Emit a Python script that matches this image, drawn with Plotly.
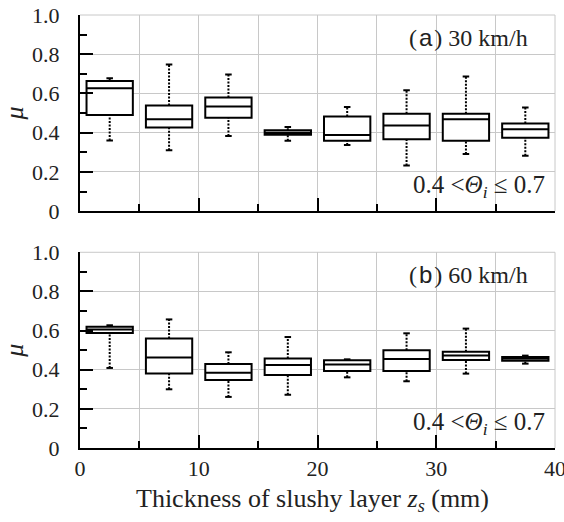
import plotly.graph_objects as go
from plotly.subplots import make_subplots

# Box positions (thickness of slushy layer, mm)
positions = [2.5, 7.5, 12.5, 17.5, 22.5, 27.5, 32.5, 37.5]

# (a) 30 km/h
a_low = [0.36, 0.31, 0.383, 0.359, 0.337, 0.233, 0.291, 0.283]
a_q1 = [0.49, 0.427, 0.476, 0.39, 0.359, 0.366, 0.359, 0.374]
a_med = [0.626, 0.469, 0.534, 0.40, 0.388, 0.437, 0.468, 0.417]
a_q3 = [0.663, 0.539, 0.58, 0.412, 0.482, 0.497, 0.497, 0.447]
a_high = [0.677, 0.748, 0.697, 0.429, 0.531, 0.617, 0.686, 0.529]

# (b) 60 km/h
b_low = [0.409, 0.30, 0.261, 0.272, 0.361, 0.341, 0.38, 0.431]
b_q1 = [0.588, 0.381, 0.348, 0.373, 0.394, 0.394, 0.45, 0.446]
b_med = [0.605, 0.463, 0.385, 0.424, 0.427, 0.455, 0.472, 0.457]
b_q3 = [0.619, 0.56, 0.429, 0.457, 0.448, 0.499, 0.492, 0.465]
b_high = [0.627, 0.657, 0.489, 0.567, 0.453, 0.586, 0.61, 0.472]

panel_letters = ["a", "b"]
panel_speeds = ["30 km/h", "60 km/h"]
range_label = "0.4 &lt;<i>Θ<sub>i</sub></i> ≤ 0.7"
x_title = "Thickness of slushy layer <i>z<sub>s</sub></i> (mm)"
x_ticks = [0, 10, 20, 30, 40]
y_ticks = [0, 0.2, 0.4, 0.6, 0.8, 1.0]
y_ticktext = ["0", "0.2", "0.4", "0.6", "0.8", "1.0"]

SERIF = "Liberation Serif"
TXT = "#222222"
GRID = "#c8c8c8"
BOX_W = 3.9
CAP_W = 0.55

fig = make_subplots(rows=2, cols=1, vertical_spacing=0.095)

datasets = [(a_low, a_q1, a_med, a_q3, a_high), (b_low, b_q1, b_med, b_q3, b_high)]
for r, (lo, q1, med, q3, hi) in enumerate(datasets, start=1):
    wx, wy = [], []
    for p, l, a, b, h in zip(positions, lo, q1, q3, hi):
        wx += [p, p, None, p, p, None]
        wy += [l, a, None, b, h, None]
    fig.add_trace(go.Scatter(x=wx, y=wy, mode="lines",
                             line=dict(color="black", width=2, dash="2px,1.5px"),
                             hoverinfo="skip", showlegend=False), row=r, col=1)
    cx, cy = [], []
    for p, l, h in zip(positions, lo, hi):
        cx += [p - CAP_W / 2, p + CAP_W / 2, None, p - CAP_W / 2, p + CAP_W / 2, None]
        cy += [l, l, None, h, h, None]
    fig.add_trace(go.Scatter(x=cx, y=cy, mode="lines",
                             line=dict(color="black", width=2),
                             hoverinfo="skip", showlegend=False), row=r, col=1)
    fig.add_trace(go.Box(x=positions, q1=q1, median=med, q3=q3,
                         lowerfence=q1, upperfence=q3,
                         width=BOX_W, whiskerwidth=0,
                         fillcolor="white", line=dict(color="black", width=2),
                         boxpoints=False, showlegend=False), row=r, col=1)

axis_common = dict(showline=True, linecolor="black", linewidth=2,
                   showgrid=True, gridcolor=GRID, gridwidth=1,
                   zeroline=False, ticks="inside", tickcolor="black",
                   tickwidth=2, mirror=False, automargin=False)

for r in (1, 2):
    fig.update_xaxes(range=[0, 40], tickvals=x_ticks, ticklen=13,
                     showticklabels=(r == 2), ticklabeloverflow="allow",
                     ticklabelstandoff=0,
                     minor=dict(dtick=5, tick0=0, ticks="inside", ticklen=7,
                                tickcolor="black", tickwidth=2, showgrid=True,
                                gridcolor=GRID, gridwidth=1),
                     tickfont=dict(family=SERIF, size=22, color=TXT),
                     row=r, col=1, **axis_common)
    fig.update_yaxes(range=[0, 1.0], tickvals=y_ticks, ticktext=y_ticktext,
                     ticklen=13, ticklabelstandoff=14,
                     minor=dict(dtick=0.1, tick0=0, ticks="inside", ticklen=7,
                                tickcolor="black", tickwidth=2, showgrid=False),
                     tickfont=dict(family=SERIF, size=22, color=TXT),
                     title=dict(text="<i>μ</i>", font=dict(family=SERIF, size=26, color=TXT),
                                standoff=6),
                     row=r, col=1, **axis_common)

fig.add_annotation(x=0.49, y=-0.121, xref="x2 domain", yref="paper",
                   text=x_title, showarrow=False, xanchor="center", yanchor="middle",
                   font=dict(family=SERIF, size=26, color=TXT))

for i in range(2):
    xref = "x" if i == 0 else "x2"
    yref = "y" if i == 0 else "y2"
    fig.add_shape(type="line", xref=xref + " domain", yref=yref + " domain",
                  x0=0, x1=1, y0=1, y1=1, line=dict(color=GRID, width=1))
    fig.add_shape(type="line", xref=xref + " domain", yref=yref + " domain",
                  x0=1, x1=1, y0=0, y1=1, line=dict(color=GRID, width=1))
    lab = ("(\u200a<span style='font-family:Liberation Sans'>" + panel_letters[i]
           + "</span>\u200a) " + panel_speeds[i])
    fig.add_annotation(x=0.947, y=0.885, xref=xref + " domain", yref=yref + " domain",
                       text=lab, showarrow=False, xanchor="right", yanchor="middle",
                       font=dict(family=SERIF, size=24, color=TXT))
    fig.add_annotation(x=0.983, y=0.125, xref=xref + " domain", yref=yref + " domain",
                       text=range_label, showarrow=False, xanchor="right", yanchor="middle",
                       font=dict(family=SERIF, size=25, color=TXT))

fig.update_layout(width=564, height=522,
                  margin=dict(l=80, r=9, t=15, b=74),
                  paper_bgcolor="white", plot_bgcolor="white")
fig.update_layout(yaxis=dict(domain=[0.547, 1.0]), yaxis2=dict(domain=[0.0, 0.452]))

fig.write_html("out.html")
